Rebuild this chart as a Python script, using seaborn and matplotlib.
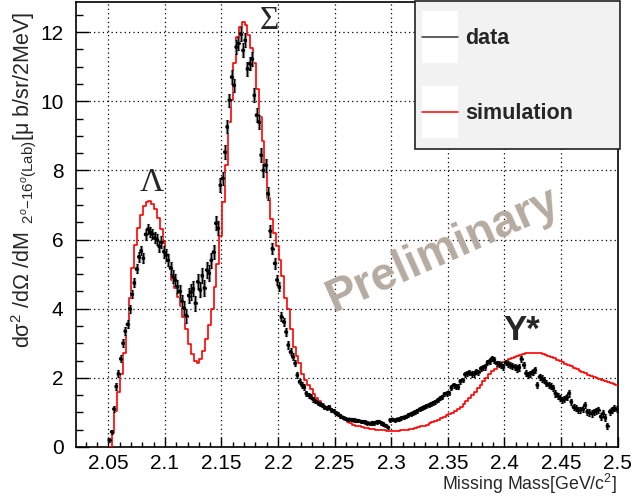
import numpy as np
import pandas as pd
import matplotlib
matplotlib.use('Agg')
import matplotlib.pyplot as plt
import seaborn as sns
from matplotlib.ticker import MultipleLocator
from matplotlib.patches import Rectangle
from matplotlib.lines import Line2D

# ---------------- data ----------------
data_start = 2.051   # GeV, first bin centre of the measured spectrum
data_step = 0.002    # 2 MeV bins
data_vals = [
    0.20, 0.44, 1.10, 1.75, 2.12, 2.55, 3.00, 3.35, 3.55, 4.00,
    4.42, 4.75, 5.15, 5.50, 5.68, 5.46, 6.15, 6.30, 6.22, 6.16,
    6.05, 6.00, 5.80, 5.92, 5.65, 5.55, 5.40, 5.18, 4.93, 4.83,
    4.64, 4.50, 4.22, 4.02, 3.80, 4.38, 4.48, 4.58, 4.16, 4.78,
    4.55, 4.96, 4.60, 5.12, 5.03, 5.40, 5.64, 6.47, 6.33, 7.57,
    7.77, 8.53, 9.26, 10.03, 10.70, 10.46, 11.57, 11.67, 11.95,
    11.47, 11.76, 10.94, 11.09, 11.23, 10.17, 9.60, 9.40, 8.44, 8.00,
    8.15, 7.33, 6.25, 5.74, 5.31, 4.83, 4.63, 3.77, 3.62, 3.33,
    2.95, 2.75, 2.61, 2.42, 2.08, 1.89, 1.79, 1.74, 1.55, 1.50,
    1.45, 1.38, 1.33, 1.28, 1.24, 1.21, 1.15, 1.12, 1.16, 1.08,
    1.04, 0.98, 0.95, 0.90, 0.86, 0.83, 0.80, 0.80, 0.79, 0.78,
    0.77, 0.76, 0.74, 0.73, 0.72, 0.69, 0.68, 0.70, 0.70, 0.72,
    0.73, 0.70, 0.66, 0.62, 0.57, 0.78, 0.80, 0.77, 0.80, 0.81,
    0.84, 0.86, 0.88, 0.92, 0.95, 0.98, 1.02, 1.05, 1.09, 1.12,
    1.15, 1.18, 1.21, 1.25, 1.28, 1.31, 1.36, 1.41, 1.45, 1.53,
    1.55, 1.56, 1.72, 1.79, 1.76, 1.74, 1.90, 1.94, 2.10, 2.13,
    2.15, 2.11, 2.11, 2.18, 2.16, 2.27, 2.30, 2.32, 2.44, 2.49,
    2.56, 2.52, 2.42, 2.40, 2.37, 2.32, 2.44, 2.40, 2.37, 2.34,
    2.32, 2.27, 2.30, 2.55, 2.37, 2.13, 2.08, 2.12, 2.18, 2.23,
    1.79, 2.03, 1.98, 1.94, 1.84, 1.80, 1.76, 1.70, 1.55, 1.48,
    1.41, 1.36, 1.38, 1.45, 1.55, 1.31, 1.15, 1.12, 1.07, 1.07,
    1.10, 1.21, 1.02, 1.00, 0.97, 1.02, 1.05, 1.07, 0.88, 0.97,
    0.85, 0.61, 1.02, 1.08, 1.12, 1.09,
]
data_err = [
    0.05, 0.06, 0.08, 0.09, 0.10, 0.10, 0.11, 0.11, 0.12, 0.12,
    0.12, 0.13, 0.13, 0.14, 0.14, 0.14, 0.15, 0.15, 0.15, 0.15,
    0.16, 0.16, 0.16, 0.17, 0.17, 0.17, 0.17, 0.18, 0.18, 0.18,
    0.18, 0.19, 0.19, 0.20, 0.20, 0.21, 0.22, 0.22, 0.22, 0.22,
    0.22, 0.22, 0.22, 0.22, 0.22, 0.22, 0.21, 0.20, 0.20, 0.20,
    0.19, 0.19, 0.19, 0.19, 0.19, 0.19, 0.20, 0.20, 0.20,
    0.20, 0.20, 0.20, 0.20, 0.20, 0.20, 0.20, 0.20, 0.20, 0.19,
    0.19, 0.18, 0.17, 0.16, 0.15, 0.14, 0.13, 0.12, 0.12, 0.11,
    0.11, 0.10, 0.10, 0.09, 0.09, 0.08, 0.08, 0.08, 0.07, 0.07,
    0.07, 0.07, 0.07, 0.06, 0.06, 0.06, 0.06, 0.06, 0.06, 0.06,
    0.05, 0.05, 0.05, 0.05, 0.05, 0.05, 0.05, 0.05, 0.05, 0.05,
    0.05, 0.05, 0.05, 0.05, 0.05, 0.05, 0.05, 0.05, 0.05, 0.05,
    0.05, 0.05, 0.05, 0.05, 0.05, 0.05, 0.05, 0.05, 0.05, 0.05,
    0.05, 0.05, 0.05, 0.05, 0.05, 0.06, 0.06, 0.06, 0.06, 0.06,
    0.06, 0.06, 0.06, 0.06, 0.06, 0.06, 0.06, 0.06, 0.06, 0.06,
    0.07, 0.07, 0.07, 0.07, 0.07, 0.07, 0.07, 0.07, 0.07, 0.07,
    0.08, 0.08, 0.08, 0.08, 0.08, 0.08, 0.08, 0.08, 0.08, 0.08,
    0.08, 0.08, 0.08, 0.08, 0.08, 0.08, 0.08, 0.08, 0.08, 0.08,
    0.09, 0.09, 0.09, 0.09, 0.09, 0.09, 0.09, 0.09, 0.09, 0.09,
    0.09, 0.09, 0.09, 0.09, 0.09, 0.09, 0.09, 0.09, 0.09, 0.09,
    0.09, 0.09, 0.09, 0.09, 0.09, 0.09, 0.09, 0.09, 0.09, 0.09,
    0.09, 0.09, 0.09, 0.09, 0.09, 0.09, 0.09, 0.09, 0.09, 0.09,
    0.09, 0.09, 0.09, 0.09, 0.09, 0.09,
]

sim_start = 2.0505   # GeV, lower edge of the first simulation bin
sim_step = 0.0025    # 2.5 MeV bins
sim_vals = [
    0.00, 0.40, 1.05, 1.58, 2.12, 2.72, 3.45, 4.30, 5.18, 5.85,
    6.34, 6.72, 6.96, 7.08, 7.11, 7.04, 6.87, 6.63, 6.30, 5.97,
    5.58, 5.23, 4.83, 4.60, 4.34, 4.08, 3.75, 3.40, 2.98, 2.68,
    2.50, 2.43, 2.55, 2.78, 3.12, 3.52, 3.98, 4.62, 5.30, 6.10,
    7.10, 8.15, 9.40, 10.05, 11.10, 11.85, 12.15, 12.29, 12.20, 11.92,
    11.55, 11.10, 10.35, 9.55, 8.85, 8.15, 7.20, 6.60, 6.18, 5.80,
    5.40, 4.95, 4.32, 3.98, 3.40, 2.90, 2.62, 2.42, 2.12, 1.95,
    1.79, 1.67, 1.54, 1.42, 1.33, 1.24, 1.16, 1.11, 1.06, 1.01,
    0.95, 0.89, 0.83, 0.78, 0.72, 0.68, 0.65, 0.62, 0.60, 0.58,
    0.56, 0.54, 0.52, 0.51, 0.50, 0.49, 0.48, 0.48, 0.47, 0.47,
    0.47, 0.47, 0.47, 0.48, 0.48, 0.49, 0.51, 0.53, 0.55, 0.58,
    0.60, 0.62, 0.65, 0.68, 0.71, 0.75, 0.79, 0.83, 0.87, 0.92,
    0.94, 0.99, 1.05, 1.11, 1.17, 1.25, 1.33, 1.42, 1.51, 1.60,
    1.70, 1.80, 1.90, 2.00, 2.10, 2.19, 2.27, 2.34, 2.40, 2.46,
    2.50, 2.54, 2.58, 2.61, 2.64, 2.67, 2.69, 2.71, 2.72, 2.73,
    2.73, 2.73, 2.72, 2.70, 2.67, 2.64, 2.60, 2.57, 2.53, 2.49,
    2.45, 2.41, 2.37, 2.33, 2.29, 2.25, 2.21, 2.17, 2.13, 2.09,
    2.05, 2.02, 1.99, 1.96, 1.93, 1.90, 1.87, 1.84, 1.82, 1.80,
]

x_ticks = [2.05, 2.10, 2.15, 2.20, 2.25, 2.30, 2.35, 2.40, 2.45, 2.50]
x_tick_labels = ['2.05', '2.1', '2.15', '2.2', '2.25', '2.3', '2.35', '2.4', '2.45', '2.5']
y_ticks = [0, 2, 4, 6, 8, 10, 12]
legend_labels = ['data', 'simulation']
x_title = 'Missing Mass[GeV/c$^{2}$]'
y_title = r'dσ$^{2}$ /dΩ /dM$_{\ \ 2^{o}\mathrm{-}16^{o}(\mathrm{Lab})}$[μ b/sr/2MeV]'

# ---------------- style ----------------
sns.set_style('white')
plt.rcParams['font.family'] = ['Liberation Sans', 'DejaVu Sans']
plt.rcParams['mathtext.fontset'] = 'custom'
plt.rcParams['mathtext.rm'] = 'Liberation Sans'
plt.rcParams['mathtext.it'] = 'Liberation Sans:italic'
plt.rcParams['mathtext.bf'] = 'Liberation Sans:bold'

W, H = 643, 499
fig = plt.figure(figsize=(W / 100, H / 100), dpi=100)
fig.patch.set_facecolor('white')
L, R, B, T = 76, 618, 447, 2
ax = fig.add_axes([L / W, 1 - B / H, (R - L) / W, (B - T) / H])

data_mass = data_start + data_step * np.arange(len(data_vals))
sim_edges = [float(v) for v in sim_start + sim_step * np.arange(len(sim_vals) + 1)]
sim_centers = [0.5 * (a + b) for a, b in zip(sim_edges[:-1], sim_edges[1:])]
df_data = pd.DataFrame({'mass': data_mass, 'value': data_vals, 'err': data_err})
df_sim = pd.DataFrame({'mass': sim_centers, 'value': sim_vals})

# simulation histogram
sns.histplot(data=df_sim, x='mass', weights='value', bins=sim_edges,
             element='step', fill=False, color='#ff0000', linewidth=1.2,
             ax=ax, zorder=3)

# data with error bars
ax.errorbar(df_data['mass'], df_data['value'], yerr=df_data['err'], fmt='none',
            ecolor='#8a8a8a', elinewidth=2.4, zorder=4)
ax.errorbar(df_data['mass'], df_data['value'], yerr=df_data['err'], xerr=0.001,
            fmt='none', ecolor='black', elinewidth=0.8, capsize=1.0,
            capthick=0.8, zorder=5)
sns.scatterplot(data=df_data, x='mass', y='value', s=7, color='black',
                edgecolor='none', ax=ax, zorder=6, legend=False)

# axes
ax.set_xlim(2.0215, 2.5003)
ax.set_ylim(0, 12.87)
ax.set_xlabel('')
ax.set_ylabel('')
ax.set_xticks(x_ticks)
ax.set_xticklabels(x_tick_labels)
ax.set_yticks(y_ticks)
ax.xaxis.set_minor_locator(MultipleLocator(0.01))
ax.yaxis.set_minor_locator(MultipleLocator(0.5))
ax.grid(True, which='major', color='black', linestyle=(0, (1, 2.5)), linewidth=0.9)
ax.set_axisbelow(True)
for sp in ax.spines.values():
    sp.set_visible(True)
    sp.set_color('black')
    sp.set_linewidth(1.2)
ax.tick_params(which='both', direction='in', top=False, right=False,
               bottom=True, left=True, colors='black', width=1.0)
ax.tick_params(axis='x', which='major', length=7.5, pad=5, labelsize=15)
ax.tick_params(axis='x', which='minor', length=3.8)
ax.tick_params(axis='y', which='major', length=9.5, pad=9, labelsize=15)
ax.tick_params(axis='y', which='minor', length=4.8)

# axis titles
fig.text(617 / W, 1 - 484 / H, x_title, ha='right', va='center', fontsize=12.8)
fig.text(24 / W, 1 - 12 / H, y_title, rotation=90, ha='center', va='top', fontsize=15.5)

# annotations
ax.text(2.0883, 7.63, 'Λ', fontsize=24, family='Liberation Serif', ha='center', va='center', zorder=7)
ax.text(2.1928, 12.32, 'Σ', fontsize=24, family='Liberation Serif', ha='center', va='center', zorder=7)
ax.text(2.4154, 3.38, 'Y*', fontsize=25, fontweight='bold', ha='center', va='center', zorder=7)
ax.text(2.3456, 5.70, 'Preliminary', fontsize=33, fontweight='bold', color='#b6aba0',
        rotation=24, ha='center', va='center', rotation_mode='anchor', zorder=2)

# legend box (ROOT style)
fig.add_artist(Rectangle((415 / W, 1 - 149 / H), (619.5 - 415) / W, (149 - 1) / H,
                         transform=fig.transFigure, facecolor='#f2f2f2',
                         edgecolor='#222222', linewidth=1.2, zorder=10))
for yc, col, lab in [(37.3, '#333333', legend_labels[0]), (112.3, '#ff0000', legend_labels[1])]:
    fig.add_artist(Rectangle((421.7 / W, 1 - (yc + 26) / H), 36.6 / W, 52 / H,
                             transform=fig.transFigure, facecolor='white',
                             edgecolor='none', zorder=11))
    fig.add_artist(Line2D([421.7 / W, 458.3 / W], [1 - yc / H, 1 - yc / H],
                          transform=fig.transFigure, color=col, linewidth=1.1, zorder=12))
    fig.text(465 / W, 1 - (yc + 1.5) / H, lab, ha='left', va='center', fontsize=15.5,
             fontweight='bold', zorder=12)

fig.savefig('out.png', dpi=100)
